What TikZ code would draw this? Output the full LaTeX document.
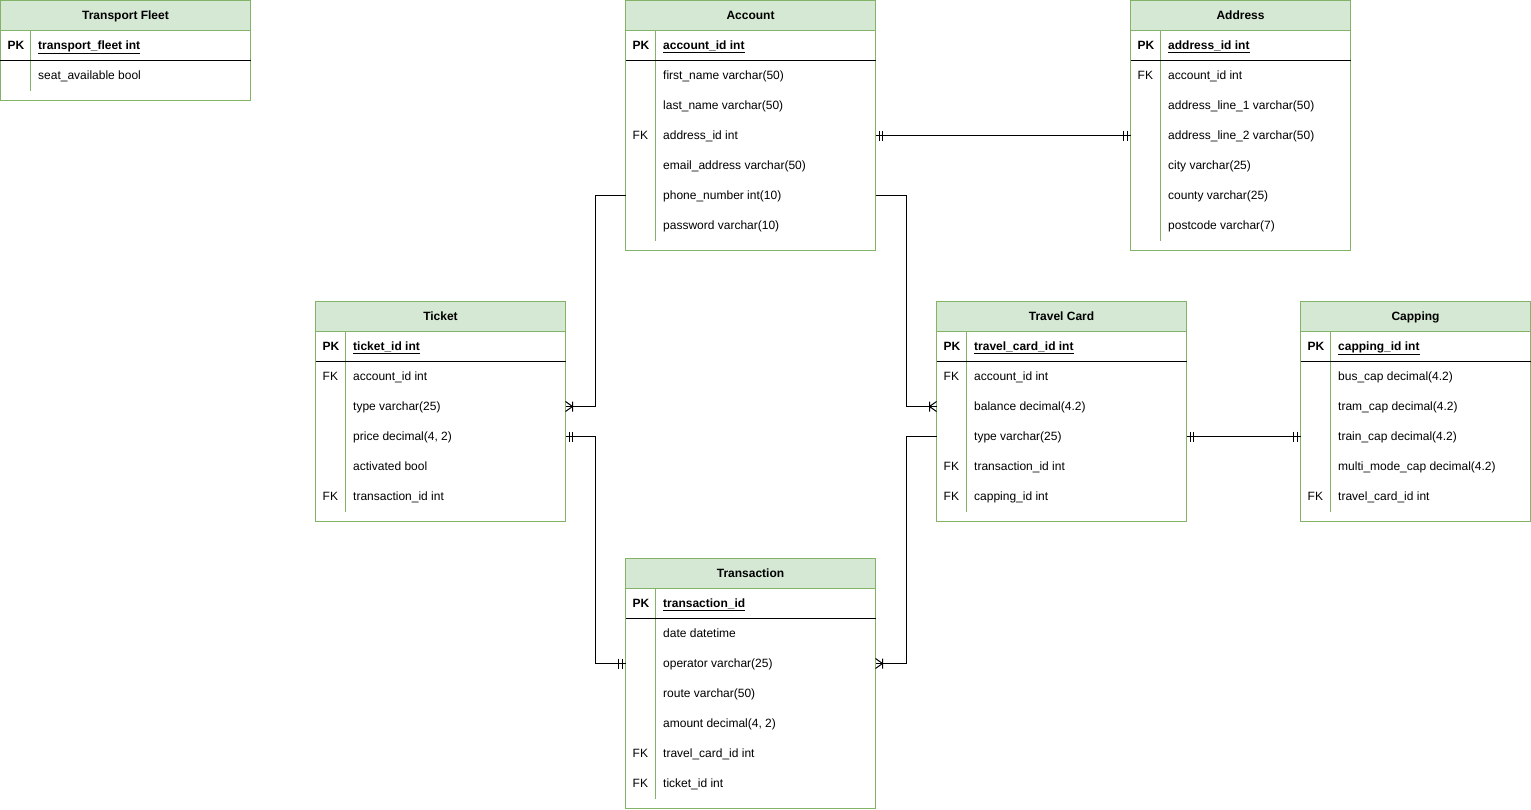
\documentclass[tikz,border=0pt]{standalone}
\usepackage{fontspec}
\setmainfont{Liberation Sans}
\definecolor{hdrfill}{HTML}{D5E8D4}
\definecolor{hdrline}{HTML}{82B366}
\newcommand\erfont{\fontsize{12}{14}\selectfont}

\tikzset{
  tablebox/.style={draw=hdrline, line width=1pt, fill=white, anchor=north west, inner sep=0pt, outer sep=0pt},
  headbox/.style={draw=hdrline, fill=hdrfill, line width=1pt, minimum height=30pt, anchor=north west,
    inner sep=0pt, outer sep=0pt, font=\erfont\bfseries, text height=11pt, text depth=2.5pt},
  rowbox/.style={minimum height=30pt, anchor=north west, inner sep=0pt, outer sep=0pt},
  keytext/.style={anchor=west, inner sep=0pt, text height=9pt, text depth=2.5pt, font=\erfont},
  fieldtext/.style={anchor=west, inner sep=0pt, text height=9pt, text depth=2.5pt, font=\erfont},
  keysep/.style={draw=hdrline, line width=1pt},
  pkrule/.style={draw=black, line width=1pt},
  conn/.style={draw=black, line width=1pt},
  % relationship ends: entity edge at the origin, entity on the +x side
  mandone/.pic={\draw[conn] (-3.5,-5) -- (-3.5,5) (-7,-5) -- (-7,5);},
  onemany/.pic={\draw[conn] (0,-5) -- (-7,0) -- (0,5) (-7,-5) -- (-7,5);},
}

% #1 name, #2 x, #3 y, #4 width, #5 height, #6 title, #7 primary key, #8 key/field rows
\newcommand\ertable[8]{%
  \node[tablebox, minimum width=#4, minimum height=#5] (#1) at (#2,#3) {};
  \node[headbox, minimum width=#4] (#1-h) at (#2,#3) {#6};
  \draw[keysep] (#2+30,#3+30) -- (#2+30,#3+60);
  \node[keytext, font=\erfont\bfseries] (#1-pkk) at (#2+7,#3+46) {PK};
  \node[fieldtext, font=\erfont\bfseries] (#1-pk) at (#2+37.5,#3+46) {\underline{#7}};
  \foreach \k/\f [count=\i] in {#8}{%
    \node[rowbox, minimum width=#4] (#1-\i) at (#2,#3+30+30*\i) {};
    \draw[keysep] (#2+30,#3+30+30*\i) -- (#2+30,#3+60+30*\i);
    \node[keytext] (#1-k\i) at (#2+7,#3+46+30*\i) {\k};
    \node[fieldtext] (#1-f\i) at (#2+37.5,#3+46+30*\i) {\f};
  }%
  \draw[pkrule] (#2,#3+60) -- (#2+#4,#3+60);
}

\begin{document}
\begin{tikzpicture}[x=1pt, y=-1pt]
\useasboundingbox (-0.5,-0.5) rectangle (1530.5,808.5);

\ertable{fleet}{0}{0}{250}{100}{Transport Fleet}{transport\_fleet int}
  {/seat\_available bool}

\ertable{acc}{625}{0}{250}{250}{Account}{account\_id int}
  {/first\_name varchar(50), /last\_name varchar(50), FK/address\_id int,
   /email\_address varchar(50), /phone\_number int(10), /password varchar(10)}

\ertable{addr}{1130}{0}{220}{250}{Address}{address\_id int}
  {FK/account\_id int, /address\_line\_1 varchar(50), /address\_line\_2 varchar(50),
   /city varchar(25), /county varchar(25), /postcode varchar(7)}

\ertable{tic}{315}{301}{250}{220}{Ticket}{ticket\_id int}
  {FK/account\_id int, /type varchar(25), /{price decimal(4, 2)},
   /activated bool, FK/transaction\_id int}

\ertable{tc}{936}{301}{250}{220}{Travel Card}{travel\_card\_id int}
  {FK/account\_id int, /balance decimal(4.2), /type varchar(25),
   FK/transaction\_id int, FK/capping\_id int}

\ertable{cap}{1300}{301}{230}{220}{Capping}{capping\_id int}
  {/bus\_cap decimal(4.2), /tram\_cap decimal(4.2), /train\_cap decimal(4.2),
   /multi\_mode\_cap decimal(4.2), FK/travel\_card\_id int}

\ertable{trn}{625}{558}{250}{250}{Transaction}{transaction\_id}
  {/date datetime, /operator varchar(25), /route varchar(50),
   /{amount decimal(4, 2)}, FK/travel\_card\_id int, FK/ticket\_id int}

% relationships
\draw[conn] (acc-3.east) -- (addr-3.west);
\pic[rotate=180] at (acc-3.east) {mandone};
\pic at (addr-3.west) {mandone};

\draw[conn] (acc-5.west) -- ++(-30,0) |- (tic-2.east);
\pic[rotate=180] at (tic-2.east) {onemany};

\draw[conn] (acc-5.east) -- ++(31,0) |- (tc-2.west);
\pic at (tc-2.west) {onemany};

\draw[conn] (tic-3.east) -- ++(30,0) |- (trn-2.west);
\pic[rotate=180] at (tic-3.east) {mandone};
\pic at (trn-2.west) {mandone};

\draw[conn] (tc-3.west) -- ++(-30,0) |- (trn-2.east);
\pic[rotate=180] at (trn-2.east) {onemany};

\draw[conn] (tc-3.east) -- (cap-3.west);
\pic[rotate=180] at (tc-3.east) {mandone};
\pic at (cap-3.west) {mandone};
\end{tikzpicture}
\end{document}
